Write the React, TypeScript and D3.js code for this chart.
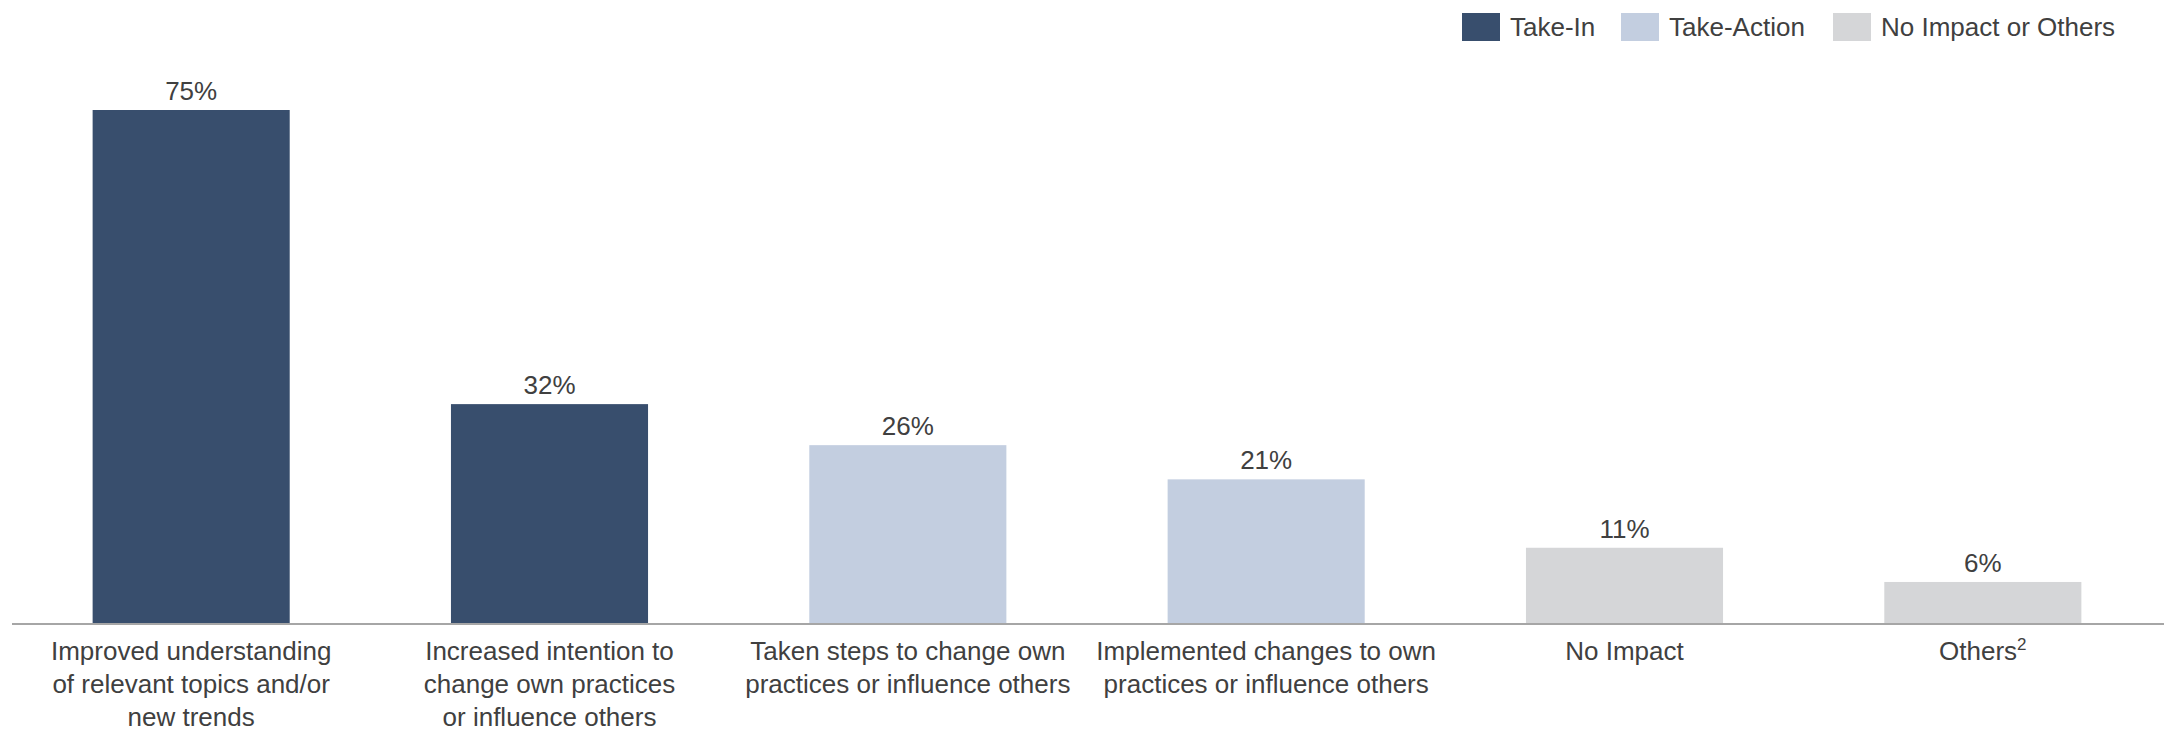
import React from "react";
import * as d3 from "d3";

const categories: string[][] = [
  ["Improved understanding", "of relevant topics and/or", "new trends"],
  ["Increased intention to", "change own practices", "or influence others"],
  ["Taken steps to change own", "practices or influence others"],
  ["Implemented changes to own", "practices or influence others"],
  ["No Impact"],
  ["Others"],
];
const superscripts: string[] = ["", "", "", "", "", "2"];
const values: number[] = [75, 32, 26, 21, 11, 6];
const groups: string[] = ["Take-In", "Take-In", "Take-Action", "Take-Action", "No Impact or Others", "No Impact or Others"];
const legendItems: string[] = ["Take-In", "Take-Action", "No Impact or Others"];
const colors: Record<string, string> = {
  "Take-In": "#384e6d",
  "Take-Action": "#c3cee0",
  "No Impact or Others": "#d5d6d8",
};

const W = 2164;
const H = 735;
const FONT = "'Liberation Sans', Arial, sans-serif";
const TEXT = "#404040";

export default function App() {
  const idx = values.map((_, i) => String(i));
  const x = d3.scaleBand<string>().domain(idx).range([12, 2162]).paddingInner(0.45).paddingOuter(0.225);
  const y = d3.scaleLinear().domain([0, 75]).range([623, 110]);
  const baseY = y(0);

  const legendX = [1462, 1621, 1833];

  return (
    <svg width={W} height={H} style={{ position: "absolute", left: 0, top: 0, fontFamily: FONT }}>
      <rect x={0} y={0} width={W} height={H} fill="#fff" />
      {values.map((v, i) => {
        const bx = x(String(i))!;
        const bw = x.bandwidth();
        return (
          <g key={i}>
            <rect x={bx} y={y(v)} width={bw} height={baseY - y(v)} fill={colors[groups[i]]} />
            <text x={bx + bw / 2} y={y(v) - 10} textAnchor="middle" fontSize={26} fill={TEXT}>
              {v}%
            </text>
            <text x={bx + bw / 2} textAnchor="middle" fontSize={26} fill={TEXT}>
              {categories[i].map((line, j) => (
                <tspan key={j} x={bx + bw / 2} y={660 + j * 33}>
                  {line}
                  {j === categories[i].length - 1 && superscripts[i] ? (
                    <tspan fontSize={17} dy={-10}>{superscripts[i]}</tspan>
                  ) : null}
                </tspan>
              ))}
            </text>
          </g>
        );
      })}
      <line x1={12} x2={W} y1={baseY + 1} y2={baseY + 1} stroke="#a6a6a6" strokeWidth={2} />
      {legendItems.map((name, i) => (
        <g key={name}>
          <rect x={legendX[i]} y={13} width={38} height={28} fill={colors[name]} />
          <text x={legendX[i] + 48} y={36} fontSize={26} fill={TEXT}>
            {name}
          </text>
        </g>
      ))}
    </svg>
  );
}
